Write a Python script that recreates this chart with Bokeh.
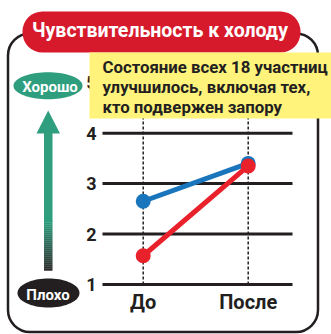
import math
from bokeh.plotting import figure
from bokeh.models import Range1d, BoxAnnotation, Label
from bokeh.core.properties import value
from bokeh.embed import file_html
from bokeh.resources import INLINE

# ---- data ----
categories = ["До", "После"]
blue_values = [2.65, 3.40]
red_values = [1.57, 3.35]
y_ticks = [1, 2, 3, 4, 5]
y_tick_labels = ["1", "2", "3", "4", "5"]
title_text = "Чувствительность к холоду"
note_lines = ["Состояние всех 18 участниц", "улучшилось, включая тех,", "кто подвержен запору"]
good_label = "Хорошо"
bad_label = "Плохо"

FONT = "Roboto"
W, H = 331, 334
PX0, PXU = 142.7, 105.0
PY1, PYU = 284.0, 50.45

def X(px):
    return (px - PX0) / PXU

def Y(py):
    return 1 + (PY1 - py) / PYU

def oval(cx, cy, w, h, n=72):
    xs_, ys_ = [], []
    for i in range(n):
        a = 2 * math.pi * i / n
        xs_.append(X(cx + w / 2 * math.cos(a)))
        ys_.append(Y(cy + h / 2 * math.sin(a)))
    return xs_, ys_

xs = list(range(len(categories)))

p = figure(width=W, height=H, output_backend="svg", toolbar_location=None,
           x_range=Range1d(X(0), X(W)), y_range=Range1d(Y(H), Y(0)),
           x_axis_type=None, y_axis_type=None, min_border=0,
           background_fill_color="white", border_fill_color="white")
p.outline_line_color = None
p.grid.visible = False

dark = "#231f20"

p.add_layout(BoxAnnotation(left=X(7.5), right=X(317.5), top=Y(33), bottom=Y(331.5),
                           fill_alpha=0, line_color=dark, line_alpha=1, line_width=2.5, border_radius=22))

p.segment(x0=xs, x1=xs, y0=[min(y_ticks)] * len(xs), y1=[max(y_ticks)] * len(xs),
          line_color=dark, line_width=1.5, line_dash="3 2")
p.segment(x0=[X(102)] * len(y_ticks), x1=[X(292)] * len(y_ticks), y0=y_ticks, y1=y_ticks,
          line_color=dark, line_width=3)
p.text(x=[X(96)] * len(y_ticks), y=y_ticks, text=y_tick_labels, text_align="right",
       text_baseline="middle", text_font=value(FONT), text_font_style="bold",
       text_font_size="18px", text_color=dark)
p.text(x=xs, y=[Y(301)] * len(xs), text=categories, text_align="center",
       text_baseline="middle", text_font=value(FONT), text_font_style="bold",
       text_font_size="20px", text_color=dark)

p.line(xs, blue_values, line_color="#1a76bc", line_width=5)
p.scatter(xs, blue_values, size=15, fill_color="#1a76bc", line_color=None)
p.line(xs, red_values, line_color="#e8212b", line_width=5)
p.scatter(xs, red_values, size=15, fill_color="#e8212b", line_color=None)

green = (46, 158, 126)
darkc = (45, 45, 45)
p.quad(left=[X(43.5)], right=[X(52)], top=[Y(131)], bottom=[Y(221)], fill_color="#2e9e7e", line_color=None)
steps = 25
tops, bots, cols = [], [], []
for i in range(steps):
    t = i / (steps - 1)
    c = tuple(int(round(green[k] + (darkc[k] - green[k]) * t)) for k in range(3))
    tops.append(Y(220 + i * 2))
    bots.append(Y(220 + i * 2 + 2.2))
    cols.append("#%02x%02x%02x" % c)
p.quad(left=[X(43.5)] * steps, right=[X(52)] * steps, top=tops, bottom=bots, fill_color=cols, line_color=None)
p.patch(x=[X(36), X(47.7), X(59.5)], y=[Y(133), Y(110), Y(133)], fill_color="#2e9e7e", line_color=None)

gx, gy = oval(47.5, 85.3, 69, 27)
p.patch(gx, gy, fill_color="#2e9e7e", line_color=None)
bx, by = oval(48, 292.5, 62, 29)
p.patch(bx, by, fill_color="#231f20", line_color=None)
p.text(x=[X(49.5), X(47.5)], y=[Y(86.5), Y(294)], text=[good_label, bad_label], text_align="center",
       text_baseline="middle", text_font=value(FONT), text_font_style="bold",
       text_font_size="15px", text_color="white")

p.add_layout(BoxAnnotation(left=X(22), right=X(300), top=Y(11), bottom=Y(52),
                           fill_color="#d71a2b", fill_alpha=1, line_color=None, border_radius=20))
p.add_layout(Label(x=X(159.5), y=Y(30), text=title_text, text_align="center", text_baseline="middle",
                   text_font=FONT, text_font_style="bold", text_font_size="19.5px", text_color="white"))

p.add_layout(BoxAnnotation(left=X(89), right=X(335), top=Y(52), bottom=Y(118),
                           fill_color="#fff37c", fill_alpha=1, line_color=None))
for i, line in enumerate(note_lines):
    p.add_layout(Label(x=X(102), y=Y(66 + 20 * i), text=line, text_align="left", text_baseline="middle",
                       text_font=FONT, text_font_style="bold", text_font_size="16.8px", text_color=dark))

open("out.html", "w").write(file_html(p, INLINE))
